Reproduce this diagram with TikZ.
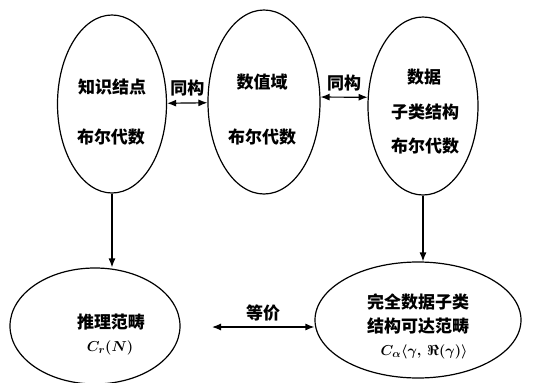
\documentclass[tikz,border=0pt]{standalone}
\usepackage{fontspec}
\newfontfamily\cjk{Noto Sans CJK SC}
\usetikzlibrary{shapes.geometric,arrows.meta}
\begin{document}
\begin{tikzpicture}[x=1pt,y=-1pt,
  oval/.style={draw,ellipse,line width=1.2pt,inner sep=0pt},
  lbl/.style={font=\cjk\bfseries\fontsize{17}{17}\selectfont,inner sep=0pt},
  mlbl/.style={font=\boldmath\fontsize{15}{15}\selectfont,inner sep=0pt},
  conn/.style={line width=1.2pt,-{Latex[length=9pt,width=7pt]}},
  dconn/.style={line width=1.2pt,{Latex[length=9pt,width=7pt]}-{Latex[length=9pt,width=7pt]}}]
\useasboundingbox (0,0) rectangle (539,383);
% top ellipses
\node[oval,minimum width=109pt,minimum height=178pt] (e1) at (112,104) {};
\node[oval,minimum width=112pt,minimum height=184pt] (e2) at (264,102) {};
\node[oval,minimum width=110pt,minimum height=178pt] (e3) at (423,106) {};
% bottom ellipses
\node[oval,minimum width=170pt,minimum height=116pt] (b1) at (95,326) {};
\node[oval,minimum width=206pt,minimum height=116pt] (b2) at (418,320) {};
% labels
\node[lbl] (t1a) at (112,87) {知识结点};
\node[lbl] (t1b) at (111,137) {布尔代数};
\node[lbl] (t2a) at (262,82) {数值域};
\node[lbl] (t2b) at (262,137) {布尔代数};
\node[lbl] (t3a) at (424,77) {数据};
\node[lbl] (t3b) at (425,112) {子类结构};
\node[lbl] (t3c) at (425,146) {布尔代数};
\node[lbl] (t4a) at (111,322) {推理范畴};
\node[mlbl] (t4b) at (110,348) {$C_{r}(N)$};
\node[lbl] (t5a) at (418,302) {完全数据子类};
\node[lbl] (t5b) at (418,326) {结构可达范畴};
\node[mlbl] (t5c) at (424,352) {$C_{\alpha}\langle\gamma,\,\Re(\gamma)\rangle$};
% connectors
\draw[dconn] (e1) -- (e2) node[lbl,midway,above=6pt] (s1) {同构};
\draw[dconn] (e2.5) -- (e3.171) node[lbl,midway,above=5pt] (s2) {同构};
\draw[conn] (e1.south) -- (e1.south |- b1.north);
\draw[conn] (e3.south) -- (e3.south |- b2.north);
\coordinate (eqs) at (212,327);
\draw[dconn] (eqs) -- (eqs -| b2.west) node[lbl,midway,above=5pt] (s3) {等价};
\end{tikzpicture}
\end{document}
